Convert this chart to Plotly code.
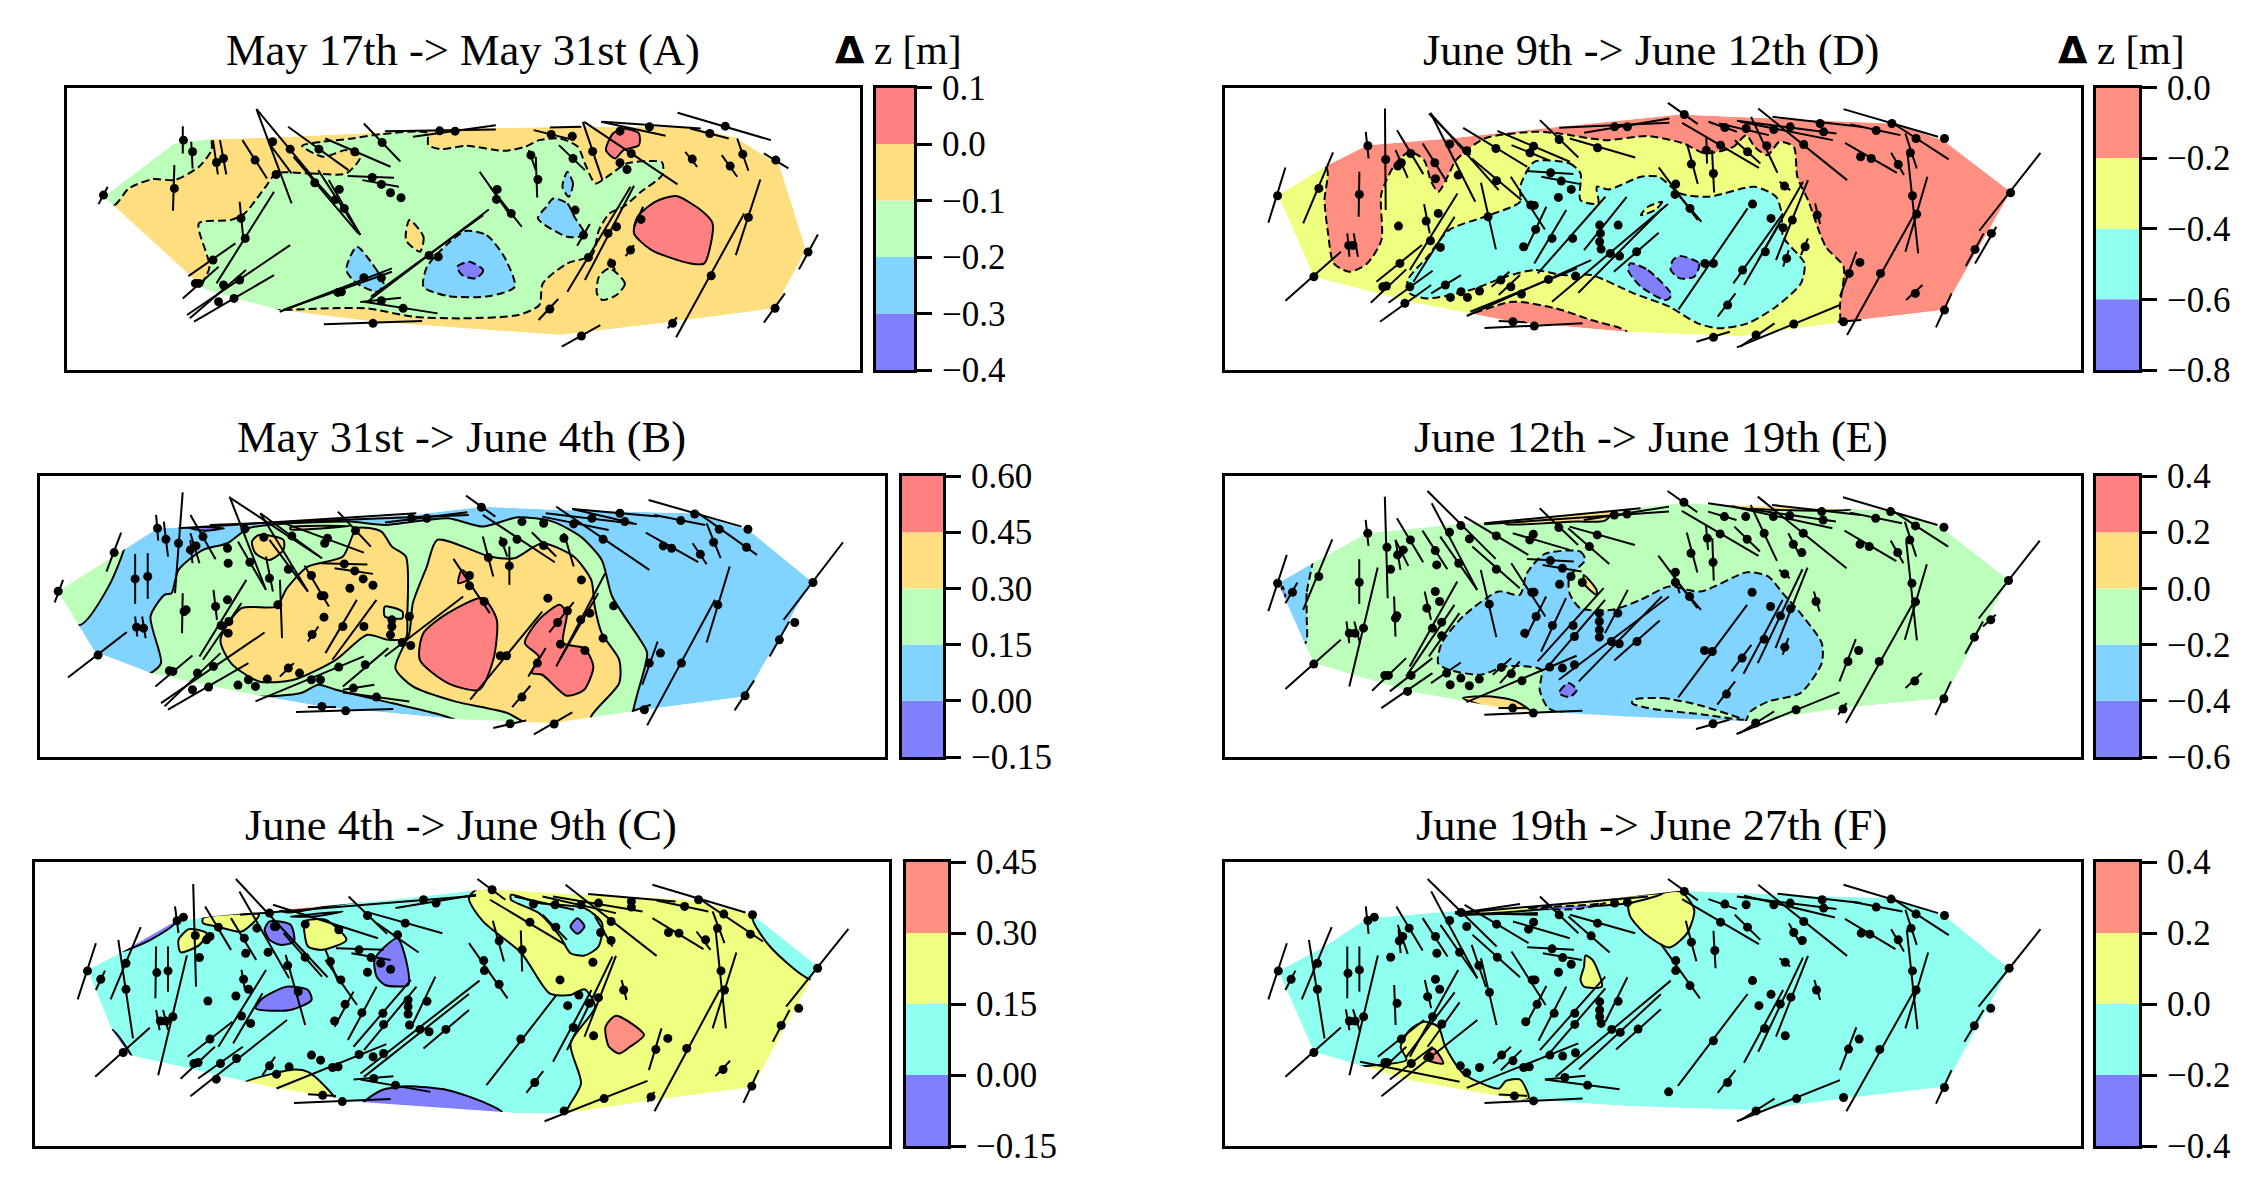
import plotly.graph_objects as go

W, H = 2265, 1193

TITLES = ["May 17th -> May 31st (A)", "May 31st -> June 4th (B)", "June 4th -> June 9th (C)",
          "June 9th -> June 12th (D)", "June 12th -> June 19th (E)", "June 19th -> June 27th (F)"]
FIVE = ["#8080ff", "#80d4ff", "#bbffbb", "#ffde80", "#ff8080"]
FOUR = ["#8080ff", "#8fffef", "#efff80", "#ff8f80"]

A_levels = [-0.4, -0.3, -0.2, -0.1, 0.0, 0.1]
B_levels = [-0.15, 0.0, 0.15, 0.30, 0.45, 0.60]
C_levels = [-0.15, 0.0, 0.15, 0.30, 0.45]
D_levels = [-0.8, -0.6, -0.4, -0.2, 0.0]
E_levels = [-0.6, -0.4, -0.2, 0.0, 0.2, 0.4]
F_levels = [-0.4, -0.2, 0.0, 0.2, 0.4]
A_ticks = ["−0.4", "−0.3", "−0.2", "−0.1", "0.0", "0.1"]
B_ticks = ["−0.15", "0.00", "0.15", "0.30", "0.45", "0.60"]
C_ticks = ["−0.15", "0.00", "0.15", "0.30", "0.45"]
D_ticks = ["−0.8", "−0.6", "−0.4", "−0.2", "0.0"]
E_ticks = ["−0.6", "−0.4", "−0.2", "0.0", "0.2", "0.4"]
F_ticks = ["−0.4", "−0.2", "0.0", "0.2", "0.4"]

# ---------- A ----------
A_hull = [(150,590),(250,430),(300,417),(390,412),(545,397),(640,385),(830,380),(985,380),(1050,412),(1112,495),(1150,750),(1105,925),(960,965),(800,1005),(535,965),(400,930),(295,870),(165,620)]
A_base = 3
A_regions = [
 (2,-0.1,[(110,640),(165,615),(185,565),(220,537),(250,540),(285,500),(303,450),(303,420),(300,380),(200,400),(110,640)]),
 (2,-0.1,[(395,520),(445,520),(495,520),(515,470),(495,450),(462,470),(432,437),(460,425),(500,416),(545,402),(610,398),(612,435),(630,447),(665,437),(720,452),(750,440),(770,420),(800,415),(825,440),(835,490),(850,550),(870,525),(895,490),(945,487),(945,525),(915,575),(890,620),(870,640),(855,690),(845,765),(810,790),(775,850),(770,915),(740,945),(660,955),(590,950),(525,925),(470,925),(400,930),(330,925),(285,885),(300,800),(285,670),(330,660),(350,640),(380,560),(395,520)]),
 (3,-0.1,[(585,660),(605,710),(600,755),(580,720),(585,660)]),
 (1,-0.2,[(510,740),(535,800),(548,850),(540,875),(510,850),(495,810),(510,740)]),
 (1,-0.2,[(665,693),(695,705),(720,770),(735,860),(700,888),(640,888),(605,860),(610,800),(640,730),(665,693)]),
 (0,-0.3,[(670,785),(690,810),(680,835),(660,825),(653,800),(670,785)]),
 (1,-0.2,[(810,515),(818,550),(812,590),(803,560),(810,515)]),
 (1,-0.2,[(790,595),(810,610),(820,650),(835,705),(810,710),(768,655),(780,620),(790,595)]),
 (2,-0.1,[(870,805),(892,850),(880,885),(860,900),(852,880),(855,830),(870,805)]),
 (4,0.0,[(965,588),(1000,630),(1017,670),(1005,790),(985,790),(930,750),(905,700),(910,650),(935,605),(965,588)]),
 (4,0.0,[(890,385),(912,400),(912,435),(890,450),(878,475),(865,450),(875,400),(890,385)]),
]
A_points = [(149,585),(263,420),(276,455),(310,487),(320,475),(365,480),(250,565),(390,425),(395,523),(415,447),(456,447),(507,455),(546,427),(450,548),(485,568),(480,598),(492,625),(532,532),(545,553),(558,578),(573,593),(628,392),(650,393),(710,568),(709,598),(730,640),(758,465),(768,538),(787,403),(817,408),(818,475),(846,454),(885,488),(901,460),(895,508),(885,393),(927,380),(1013,400),(1035,378),(988,477),(1060,462),(1042,498),(1107,480),(1068,652),(1153,756),(1015,827),(1106,925),(960,970),(830,1008),(785,927),(915,658),(900,750),(873,790),(880,680),(868,700),(840,772),(833,705),(821,630),(626,770),(613,766),(520,833),(488,875),(483,877),(545,833),(545,902),(576,925),(533,970),(345,655),(351,715),(305,780),(285,850),(280,850),(320,855),(343,840),(335,895),(313,905)]
A_segments = [(142,612,155,560),(262,378,262,460),(274,425,276,505),(305,420,312,523),(315,420,324,523),(347,420,382,535),(250,495,248,632),(367,327,417,610),(367,327,445,525),(385,430,417,520),(412,380,498,510),(465,415,558,500),(520,370,572,484),(420,470,480,610),(455,510,515,705),(420,470,512,700),(470,540,515,705),(497,528,563,533),(518,540,570,560),(550,393,708,388),(590,410,708,375),(685,515,730,650),(700,560,745,680),(755,450,765,510),(765,470,767,592),(762,390,820,420),(785,382,830,380),(798,435,835,510),(832,365,860,540),(834,365,967,553),(858,365,950,407),(860,365,1000,385),(985,385,1040,415),(967,338,1100,420),(978,455,995,500),(1052,415,1068,512),(1030,465,1052,530),(1090,460,1125,505),(1085,538,1050,765),(1167,703,1140,808),(1062,640,965,1012),(1120,880,1090,968),(966,952,953,985),(857,975,802,1040),(797,897,769,960),(918,620,905,680),(905,735,893,768),(870,775,878,810),(905,557,835,840),(900,560,810,875),(842,672,824,737),(698,628,525,905),(690,645,530,890),(560,805,400,935),(560,815,405,930),(515,906,573,893),(520,905,625,940),(463,973,603,963),(343,605,348,710),(392,575,310,850),(337,730,270,828),(313,800,262,895),(415,735,268,945),(352,810,272,955),(392,825,278,965)]

# ---------- B ----------
B_hull = [(83,575),(225,385),(350,375),(590,345),(690,320),(800,330),(990,340),(1070,390),(1160,545),(1065,890),(920,930),(790,970),(650,958),(460,920),(350,880),(215,820),(135,755)]
B_base = 1
B_regions = [
 (2,0.15,[(178,440),(155,560),(115,675),(50,640),(50,560),(178,400),(178,440)]),
 (2,0.15,[(215,820),(230,790),(215,650),(235,585),(245,580),(255,510),(290,450),(325,430),(355,385),(400,372),(500,365),(550,375),(640,355),(690,380),(740,352),(790,365),(830,410),(860,480),(875,590),(915,720),(925,760),(910,890),(905,935),(905,990),(700,1010),(650,960),(620,940),(560,910),(480,870),(455,855),(430,880),(365,892),(300,885),(250,875),(200,830),(215,820)]),
 (3,0.30,[(345,625),(395,620),(410,565),(440,500),(490,470),(510,385),(545,395),(560,440),(580,470),(582,650),(580,715),(555,720),(525,705),(480,780),(420,840),(370,845),(330,790),(315,720),(345,625)]),
 (3,0.30,[(370,405),(405,420),(405,450),(385,480),(365,460),(360,425),(370,405)]),
 (3,0.30,[(625,420),(700,470),(735,475),(775,430),(820,470),(845,540),(850,620),(860,700),(885,780),(885,850),(845,950),(845,990),(770,990),(725,940),(650,905),(590,860),(565,805),(585,700),(590,610),(610,500),(625,420)]),
 (2,0.30,[(550,620),(575,635),(575,655),(550,650),(550,620)]),
 (4,0.45,[(690,595),(710,660),(705,780),(685,870),(640,850),(600,780),(605,700),(640,640),(690,595)]),
 (4,0.45,[(660,510),(672,535),(655,550),(660,510)]),
 (4,0.45,[(800,615),(810,640),(805,730),(835,745),(848,800),(835,870),(810,888),(775,825),(760,820),(770,770),(750,730),(770,660),(800,615)]),
 (0,0.0,[(265,380),(320,385),(290,392),(265,380)]),
 (3,0.30,[(415,382),(500,378),(415,388),(415,382)]),
]
B_points = [(83,574),(163,458),(140,766),(225,385),(237,418),(255,430),(272,450),(280,438),(290,410),(193,537),(211,530),(325,445),(326,490),(350,387),(357,487),(377,412),(417,408),(412,508),(385,535),(464,430),(508,392),(468,415),(445,527),(492,492),(507,513),(519,537),(533,556),(500,565),(459,588),(463,588),(397,615),(325,600),(308,620),(263,635),(266,630),(195,682),(205,685),(316,677),(327,665),(326,700),(463,652),(490,680),(520,680),(446,704),(305,800),(247,815),(242,813),(282,820),(275,870),(298,862),(340,856),(355,840),(365,860),(382,838),(412,805),(428,820),(445,840),(458,840),(484,802),(505,865),(522,795),(538,892),(460,920),(494,933),(560,660),(560,680),(558,705),(585,650),(575,728),(587,737),(671,527),(671,558),(692,605),(698,473),(719,427),(728,498),(739,418),(777,437),(746,365),(777,370),(688,322),(588,355),(610,355),(820,372),(846,355),(886,340),(893,365),(806,415),(862,418),(831,540),(783,595),(877,618),(830,660),(843,640),(811,633),(797,668),(862,715),(836,752),(801,733),(768,790),(715,768),(724,768),(746,892),(729,972),(792,973),(921,930),(928,790),(944,760),(974,790),(1065,888),(1026,615),(1114,720),(1136,668),(1162,548),(973,362),(993,342),(1020,427),(1028,388),(1067,442),(1069,388),(948,438),(960,445),(1001,463)]
B_segments = [(90,540,78,608),(173,398,152,515),(181,697,97,833),(223,345,226,422),(234,365,240,470),(261,277,250,580),(272,420,275,490),(272,400,285,490),(272,345,308,478),(193,462,193,612),(211,460,211,597),(328,290,380,570),(330,295,460,475),(340,425,380,570),(372,340,440,575),(372,340,460,475),(385,420,440,575),(380,470,390,575),(400,365,520,458),(483,335,530,440),(435,497,470,620),(458,490,525,494),(478,505,533,522),(400,540,403,715),(352,540,285,770),(305,570,310,660),(261,580,260,700),(193,650,196,710),(203,650,208,715),(345,610,290,780),(510,600,465,760),(538,600,475,780),(455,680,440,725),(378,698,230,910),(275,767,222,860),(315,760,235,920),(355,790,240,930),(420,790,400,830),(520,770,365,905),(535,855,490,870),(555,745,490,860),(490,878,585,905),(440,922,480,922),(423,937,562,928),(662,590,550,770),(648,477,700,640),(690,410,705,530),(715,410,725,470),(728,440,728,555),(690,345,793,487),(760,397,795,470),(666,287,708,350),(255,385,595,340),(300,375,670,345),(550,368,668,337),(775,350,870,390),(818,327,905,370),(818,327,940,350),(780,340,910,372),(806,400,820,500),(795,320,928,510),(865,520,795,800),(855,580,800,780),(820,607,785,698),(780,745,755,830),(775,635,672,900),(758,858,732,922),(752,962,705,985),(818,938,763,1004),(903,935,930,915),(940,725,918,855),(1022,600,925,977),(1078,842,1050,932),(1043,500,1010,728),(1128,665,1100,770),(1205,427,1120,660),(935,345,1008,375),(927,300,1060,380),(1010,370,1030,475),(995,335,1082,465),(923,398,998,487),(990,430,1010,493)]

# ---------- C ----------
C_hull = [(125,540),(180,480),(250,395),(300,380),(380,365),(560,330),(695,298),(830,315),(980,330),(1075,375),(1168,530),(1150,600),(1075,890),(930,930),(805,970),(735,968),(515,935),(385,890),(185,795),(160,720)]
C_base = 1
C_regions = [
 (0,0.0,[(175,483),(215,450),(250,400),(250,370),(150,470),(175,483)]),
 (0,0.0,[(160,720),(180,770),(190,810),(150,810),(160,720)]),
 (2,0.15,[(670,325),(690,395),(745,490),(785,610),(815,615),(835,598),(850,650),(815,760),(830,880),(810,960),(810,1000),(1200,1000),(1200,300),(1000,300),(900,290),(695,280),(670,325)]),
 (1,0.15,[(1075,385),(1100,470),(1160,570),(1200,540),(1200,400),(1085,360),(1075,385)]),
 (1,0.15,[(730,315),(770,340),(835,355),(860,400),(855,470),(835,497),(815,490),(800,440),(770,370),(730,330),(730,315)]),
 (0,0.0,[(825,385),(835,410),(825,432),(815,410),(825,385)]),
 (3,0.30,[(880,677),(920,735),(900,770),(885,790),(870,770),(865,710),(880,677)]),
 (0,0.0,[(410,590),(440,600),(445,630),(415,660),(365,655),(375,625),(410,590)]),
 (0,0.0,[(385,395),(415,405),(420,455),(400,465),(385,450),(378,420),(385,395)]),
 (0,0.0,[(568,445),(580,510),(583,585),(550,585),(538,560),(535,510),(550,470),(568,445)]),
 (2,0.15,[(270,418),(295,430),(285,465),(258,487),(255,450),(270,418)]),
 (2,0.15,[(290,385),(370,375),(345,425),(310,410),(290,400),(290,385)]),
 (2,0.15,[(435,395),(465,390),(495,450),(460,480),(440,470),(435,430),(435,395)]),
 (2,0.15,[(348,880),(420,838),(440,845),(465,890),(478,925),(420,925),(348,880)]),
 (0,0.0,[(520,935),(545,900),(580,888),(640,900),(690,935),(717,965),(717,1000),(500,1000),(520,935)]),
 (3,0.30,[(400,360),(560,322),(480,345),(410,368),(400,360)]),
 (0,0.0,[(415,380),(490,365),(450,380),(415,380)]),
]
C_points = [(125,543),(144,568),(180,520),(180,598),(176,787),(253,393),(262,382),(224,548),(240,543),(279,437),(285,503),(295,450),(300,440),(312,412),(349,445),(351,490),(383,487),(348,568),(355,598),(337,618),(297,633),(229,693),(237,693),(247,680),(345,678),(358,700),(300,747),(283,817),(277,820),(338,805),(315,820),(309,867),(367,415),(394,410),(392,410),(385,370),(436,403),(436,502),(411,527),(426,605),(472,515),(487,570),(484,420),(525,377),(579,400),(513,480),(530,503),(544,520),(558,538),(568,435),(525,547),(493,643),(478,693),(517,668),(547,670),(548,703),(583,630),(583,650),(583,672),(585,705),(610,634),(600,718),(613,725),(637,718),(605,330),(623,340),(703,300),(691,512),(692,542),(713,583),(713,453),(746,480),(757,397),(762,343),(793,345),(794,412),(830,345),(855,340),(873,395),(858,428),(873,452),(902,335),(902,352),(978,350),(998,330),(1034,373),(1075,375),(1025,415),(1072,433),(955,428),(970,430),(1008,450),(1030,543),(1035,600),(847,517),(800,570),(891,600),(855,623),(842,640),(827,615),(811,647),(819,712),(848,737),(954,745),(937,778),(981,775),(744,747),(764,877),(806,962),(863,925),(930,920),(1074,888),(1033,838),(1116,706),(1141,655),(1168,535),(385,827),(413,830),(395,852),(458,810),(445,795),(475,832),(483,830),(513,793),(533,800),(548,790),(534,865),(565,885),(461,915),(489,934)]
C_segments = [(137,460,111,628),(150,542,137,600),(201,412,158,628),(169,450,190,745),(214,713,136,860),(250,350,255,430),(223,470,222,625),(240,470,240,605),(276,283,280,590),(293,350,330,480),(330,385,366,510),(345,540,350,600),(223,660,228,720),(233,660,240,720),(267,497,226,855),(380,540,312,770),(375,610,333,760),(332,695,268,800),(307,770,258,866),(347,770,283,865),(410,690,272,918),(337,268,468,562),(342,305,413,565),(390,345,540,445),(405,430,460,560),(408,495,436,705),(465,480,482,570),(465,510,510,645),(498,320,553,432),(530,370,632,430),(480,475,548,480),(502,490,558,510),(538,400,598,488),(505,605,478,710),(538,590,497,750),(587,570,505,770),(595,590,520,780),(622,560,590,700),(670,612,520,860),(685,572,515,850),(670,660,605,775),(343,375,680,318),(565,355,680,315),(682,268,722,330),(670,460,725,625),(704,393,720,515),(744,422,746,545),(700,330,808,465),(735,320,820,360),(775,375,810,450),(775,320,880,370),(808,285,938,498),(850,380,875,470),(840,313,965,335),(790,320,918,365),(938,332,1012,365),(932,285,1065,368),(1000,328,1090,455),(1018,365,1035,460),(932,385,1005,478),(995,425,1015,480),(1022,415,1037,715),(1052,488,1018,715),(888,570,895,630),(880,498,835,740),(875,500,810,780),(845,600,790,815),(945,715,927,840),(1028,600,935,963),(795,615,695,885),(776,843,752,908),(925,872,778,993),(935,905,925,935),(1084,840,1062,938),(1043,812,1022,858),(1128,660,1104,755),(1212,417,1123,650),(393,800,375,855),(552,762,395,895),(505,868,562,858),(515,868,615,905),(440,912,480,917),(420,938,558,926)]

# ---------- D ----------
D_hull = [(180,585),(250,495),(305,435),(420,415),(575,380),(745,343),(930,360),(1045,370),(1115,420),(1210,575),(1115,930),(975,965),(830,1008),(670,995),(510,965),(365,905),(230,830)]
D_base = 3
D_regions = [
 (2,-0.2,[(200,500),(248,505),(245,600),(250,700),(258,790),(280,815),(305,790),(325,720),(325,580),(345,490),(365,455),(385,480),(395,545),(405,575),(418,530),(430,480),(470,415),(540,395),(575,400),(640,420),(700,408),(750,430),(780,460),(820,440),(838,405),(850,440),(868,465),(885,425),(905,440),(910,530),(925,600),(950,740),(975,800),(970,915),(968,980),(900,1040),(670,1040),(670,995),(620,960),(570,925),(510,905),(445,945),(400,960),(200,880),(130,600),(200,500)]),
 (1,-0.4,[(540,485),(590,490),(605,520),(605,600),(630,610),(628,560),(645,568),(690,530),(715,530),(745,580),(785,590),(850,560),(880,590),(888,640),(890,710),(920,790),(915,850),(880,920),(840,970),(800,985),(770,970),(730,920),(680,880),(620,825),(580,825),(540,810),(500,830),(450,870),(390,895),(365,880),(362,840),(390,770),(420,690),(470,650),(520,605),(520,560),(540,485)]),
 (2,-0.4,[(700,620),(720,605),(710,630),(690,645),(700,620)]),
 (0,-0.6,[(745,768),(772,790),(765,830),(745,835),(732,810),(735,780),(745,768)]),
 (0,-0.6,[(675,790),(700,810),(733,885),(725,900),(690,860),(672,810),(675,790)]),
]
D_points = [(179,587),(237,565),(230,830),(306,437),(294,583),(331,478),(353,488),(348,498),(366,460),(400,488),(401,536),(421,432),(433,525),(445,452),(486,445),(487,542),(539,438),(534,458),(575,418),(563,518),(578,543),(592,568),(574,592),(535,615),(540,616),(629,443),(653,380),(671,380),(751,343),(739,552),(738,583),(759,625),(761,492),(782,450),(792,520),(802,435),(808,382),(838,385),(840,455),(867,437),(877,388),(900,380),(919,433),(942,370),(947,395),(1021,391),(1043,370),(1077,415),(1117,415),(999,470),(1014,475),(1052,493),(1069,458),(1072,587),(1078,642),(1210,578),(1183,700),(1160,748),(1117,930),(1076,880),(998,787),(983,820),(1027,820),(975,965),(905,972),(852,1005),(792,1012),(812,915),(938,645),(892,558),(921,740),(903,660),(890,683),(873,655),(895,775),(865,755),(847,612),(833,810),(780,790),(792,790),(684,755),(660,768),(647,760),(632,675),(633,700),(632,725),(634,747),(658,675),(594,715),(565,715),(542,688),(525,740),(475,650),(405,640),(388,663),(408,742),(394,722),(349,678),(285,736),(279,736),(351,790),(332,858),(327,860),(365,860),(358,910),(415,855),(422,892),(437,875),(446,892),(463,873),(493,840),(507,860),(522,882),(560,838),(598,828),(510,965),(540,978)]
D_segments = [(190,502,166,668),(257,457,215,670),(268,755,190,902),(303,395,307,475),(294,515,293,650),(330,325,331,630),(345,450,362,533),(347,390,384,522),(383,430,417,545),(394,338,457,605),(395,342,490,570),(392,340,450,465),(440,383,530,500),(452,475,522,600),(465,548,486,748),(488,392,590,485),(508,435,560,480),(548,360,602,472),(528,513,595,522),(550,530,605,552),(507,530,555,688),(590,415,682,472),(575,383,730,368),(610,398,730,355),(728,308,770,372),(715,502,770,660),(745,590,775,665),(755,432,770,552),(782,410,783,490),(790,450,793,577),(748,368,856,503),(785,365,825,395),(800,370,870,405),(822,420,858,490),(845,350,882,518),(855,325,980,540),(825,362,965,400),(875,350,1000,380),(830,365,960,420),(985,373,1055,405),(975,327,1108,410),(1045,370,1123,478),(977,428,1050,518),(1042,458,1060,525),(1062,400,1078,505),(1065,460,1080,760),(1093,530,1062,755),(1252,458,1166,692),(1190,680,1160,790),(1172,700,1147,798),(1127,880,1105,982),(1086,855,1063,900),(993,755,970,890),(1075,640,980,1005),(967,965,1000,960),(970,915,825,1042),(878,970,830,1040),(815,995,768,1025),(823,880,798,950),(935,610,942,672),(885,545,900,570),(925,715,915,765),(925,540,880,780),(918,545,855,780),(898,750,890,800),(890,640,820,850),(885,670,835,855),(840,625,743,928),(715,698,652,815),(720,625,602,878),(728,612,565,905),(670,590,610,750),(640,590,545,820),(585,630,540,790),(557,620,528,750),(432,580,365,810),(385,612,393,700),(428,650,370,845),(277,700,280,770),(286,700,292,770),(382,735,318,845),(360,808,310,908),(397,812,335,908),(395,855,323,965),(437,825,395,880),(505,815,480,860),(520,825,490,885),(620,780,445,948),(600,805,450,935),(490,963,530,967),(470,984,608,970)]

# ---------- E ----------
E_hull = [(180,550),(245,470),(305,400),(420,375),(575,350),(745,310),(930,325),(1040,330),(1115,385),(1208,540),(1117,895),(975,925),(850,965),(670,950),(510,930),(365,875),(230,790),(215,720)]
E_base = 2
E_regions = [
 (1,-0.2,[(228,490),(220,580),(220,650),(218,730),(170,700),(150,560),(228,470),(228,490)]),
 (0,-0.4,[(186,560),(190,590),(182,590),(186,560)]),
 (1,-0.2,[(555,462),(605,455),(612,480),(590,530),(590,580),(605,625),(650,630),(690,600),(730,560),(775,575),(840,517),(870,530),(890,580),(915,640),(945,730),(945,790),(915,880),(870,905),(845,935),(830,990),(640,990),(610,960),(560,925),(548,870),(550,810),(500,800),(465,825),(420,810),(405,790),(410,730),(440,650),(490,575),(520,585),(530,520),(555,462)]),
 (2,-0.2,[(680,900),(720,895),(770,915),(835,960),(780,945),(700,925),(678,910),(680,900)]),
 (0,-0.4,[(588,850),(600,870),(590,892),(575,880),(588,850)]),
 (3,0.0,[(610,525),(628,570),(628,585),(612,555),(610,525)]),
 (3,0.0,[(440,895),(480,890),(515,905),(535,935),(480,925),(440,895)]),
 (3,0.0,[(500,365),(650,335),(640,362),(600,365),(500,372),(500,365)]),
 (3,0.0,[(820,315),(985,322),(985,328),(820,320),(820,315)]),
]
E_points = [(179,550),(200,577),(237,530),(230,793),(306,400),(294,547),(333,442),(348,465),(356,450),(366,420),(338,508),(401,452),(403,495),(421,397),(437,377),(449,417),(434,490),(487,408),(487,508),(539,403),(534,420),(575,383),(563,482),(580,505),(592,530),(576,553),(537,577),(540,577),(618,440),(629,405),(608,548),(653,345),(671,342),(751,307),(739,517),(739,547),(759,590),(761,460),(784,415),(792,487),(802,402),(808,350),(838,350),(840,418),(864,400),(877,350),(900,347),(919,400),(905,433),(917,458),(945,335),(947,360),(1021,355),(1042,335),(1077,378),(1117,382),(999,433),(1012,440),(1052,458),(1069,420),(1072,550),(1077,606),(1208,542),(1183,660),(1160,712),(1117,897),(1076,844),(997,752),(982,785),(1026,785),(975,928),(909,930),(852,970),(792,972),(811,883),(937,605),(893,522),(893,742),(901,627),(887,648),(873,620),(864,718),(847,577),(833,775),(780,752),(791,755),(685,725),(660,732),(649,725),(632,640),(632,665),(632,690),(632,712),(658,640),(595,677),(597,710),(566,677),(543,650),(527,700),(477,613),(401,575),(407,605),(389,625),(347,648),(345,655),(300,685),(288,700),(280,700),(410,667),(397,685),(410,708),(367,827),(335,827),(330,827),(362,875),(417,820),(422,855),(437,835),(449,858),(463,838),(494,803),(508,822),(523,843),(562,802),(597,795),(580,805),(510,925),(539,940)]
E_segments = [(192,465,166,634),(207,548,190,610),(256,418,215,630),(268,720,190,868),(303,360,307,438),(294,478,294,612),(330,290,334,595),(345,420,352,510),(345,420,363,498),(347,355,384,487),(383,392,418,508),(390,273,486,477),(396,310,460,570),(408,410,460,570),(442,350,532,465),(453,440,520,565),(510,400,590,450),(548,325,602,435),(530,477,596,485),(552,495,607,515),(508,490,556,650),(588,385,646,492),(590,380,682,435),(470,370,690,325),(470,373,730,335),(610,360,730,320),(728,273,770,337),(715,467,770,625),(735,510,745,580),(745,555,775,630),(755,398,770,518),(782,375,785,450),(791,415,793,542),(748,333,856,468),(785,335,825,360),(822,380,858,455),(845,315,882,483),(855,290,980,505),(785,310,965,365),(898,400,915,470),(875,315,1000,345),(830,325,960,385),(985,338,1058,370),(975,292,1108,375),(1045,333,1123,440),(977,392,1050,484),(1042,422,1060,490),(1062,365,1078,470),(1064,425,1079,722),(1093,493,1062,720),(1252,422,1166,656),(1190,645,1172,680),(1172,665,1147,762),(1127,845,1105,946),(1086,820,1063,865),(993,718,970,845),(1075,605,979,970),(980,910,968,945),(970,878,825,1003),(878,935,830,1000),(815,960,768,988),(823,845,798,915),(934,575,942,635),(885,510,900,535),(898,715,890,765),(925,503,880,745),(918,508,855,790),(890,600,835,822),(846,735,818,815),(840,615,743,893),(717,662,653,782),(720,590,603,845),(730,590,575,840),(672,570,640,700),(638,565,545,785),(640,600,560,800),(585,595,550,755),(557,590,528,715),(465,510,487,712),(386,575,395,660),(432,545,365,800),(343,590,345,710),(320,503,280,860),(276,665,280,730),(287,665,295,730),(428,615,360,830),(435,640,392,770),(397,775,337,875),(360,775,312,873),(397,820,325,925),(437,788,395,850),(508,775,482,825),(520,785,492,850),(600,768,445,907),(490,925,530,925),(470,945,608,933)]

# ---------- F ----------
F_hull = [(180,543),(245,470),(305,385),(420,365),(575,345),(745,303),(930,318),(1040,325),(1117,378),(1208,535),(1117,890),(975,925),(850,960),(670,947),(510,925),(365,870),(230,785)]
F_base = 1
F_regions = [
 (2,0.0,[(673,345),(745,305),(765,360),(755,430),(730,473),(695,430),(675,380),(673,345)]),
 (2,0.0,[(430,365),(575,338),(720,312),(673,340),(575,355),(430,372),(430,365)]),
 (2,0.0,[(612,497),(622,510),(635,590),(610,590),(605,570),(610,530),(612,497)]),
 (2,0.0,[(385,695),(405,710),(415,770),(440,850),(490,895),(500,872),(520,868),(532,925),(490,925),(365,885),(285,835),(360,810),(352,770),(365,720),(385,695)]),
 (0,-0.2,[(530,355),(620,345),(640,340),(600,358),(530,355)]),
 (3,0.2,[(398,775),(412,820),(385,805),(398,775)]),
]
F_points = [(180,543),(198,568),(235,520),(235,598),(230,787),(306,392),(315,382),(278,550),(294,540),(338,502),(300,680),(350,453),(355,440),(364,415),(401,440),(403,490),(421,392),(437,368),(445,410),(435,487),(462,527),(487,403),(488,502),(477,607),(539,397),(532,418),(575,375),(629,400),(620,438),(565,477),(580,503),(592,523),(574,547),(537,570),(541,570),(544,643),(528,695),(568,670),(597,670),(597,703),(632,635),(632,660),(632,680),(634,700),(658,634),(649,718),(661,727),(686,717),(653,340),(671,338),(751,305),(739,512),(739,542),(759,587),(761,457),(794,482),(802,397),(808,343),(838,345),(840,412),(877,345),(900,340),(919,395),(905,428),(917,452),(945,330),(947,355),(1021,352),(1042,328),(1077,373),(1117,377),(1000,430),(1012,433),(1052,450),(1070,415),(1072,543),(1077,600),(1208,535),(1182,655),(1159,707),(1117,892),(1026,778),(982,777),(997,747),(975,922),(909,925),(852,962),(812,877),(729,905),(792,752),(893,517),(847,572),(937,600),(893,737),(901,622),(886,642),(873,613),(856,647),(864,715),(615,885),(583,862),(512,917),(539,932),(562,795),(598,788),(580,798),(533,830),(525,832),(494,795),(510,812),(463,832),(436,827),(445,848),(353,747),(333,817),(330,817),(367,820),(393,800),(397,680),(410,702),(401,568),(407,598),(390,620),(347,640),(288,693),(280,693)]
F_segments = [(192,460,166,628),(204,542,190,600),(255,412,213,628),(223,450,245,745),(268,712,190,860),(303,350,307,432),(277,470,277,625),(294,470,294,605),(320,497,280,855),(349,418,352,490),(348,405,362,492),(346,350,383,482),(383,385,418,500),(390,268,487,470),(395,305,460,565),(408,405,460,565),(452,465,472,592),(442,345,532,460),(453,435,520,562),(465,505,487,705),(510,395,590,445),(548,320,602,430),(590,375,682,430),(588,380,646,488),(530,472,596,480),(552,490,607,510),(508,485,556,645),(557,588,528,705),(585,590,546,752),(640,560,548,780),(640,595,557,800),(671,562,640,695),(718,613,603,838),(732,572,570,860),(718,658,655,778),(430,370,700,320),(440,368,520,343),(440,375,545,370),(430,370,545,375),(728,268,770,332),(718,462,773,625),(753,393,768,514),(792,423,795,535),(748,328,856,463),(785,328,825,358),(822,375,858,450),(855,285,980,498),(825,320,965,358),(898,400,915,465),(882,312,1000,340),(835,318,963,383),(985,335,1058,365),(975,285,1108,370),(1045,328,1123,436),(977,387,1048,478),(1042,418,1060,485),(1062,360,1078,465),(1064,420,1079,717),(1094,488,1062,715),(1252,418,1165,650),(1172,660,1145,755),(1127,840,1105,940),(1075,600,979,963),(993,712,970,840),(970,870,825,993),(878,925,830,990),(823,840,798,908),(840,612,742,887),(885,505,900,530),(934,570,942,630),(925,498,880,740),(918,503,855,785),(890,600,835,818),(555,868,660,897),(555,868,612,857),(490,913,530,917),(470,938,608,925),(602,760,445,893),(507,770,482,820),(522,780,493,840),(385,690,320,800),(360,770,312,866),(397,770,337,868),(460,690,325,918),(428,607,360,800),(435,637,390,770),(386,570,395,655),(433,540,365,800),(343,585,345,705),(285,658,295,725),(275,658,280,720),(295,815,435,875)]

# panel layout in figure pixels: map rectangle, colourbar x span, axis window of the map
PANELS = [
 dict(hull=A_hull,base=A_base,regions=A_regions,points=A_points,segments=A_segments,levels=A_levels,ticks=A_ticks,colors=FIVE,
      rect=(67,87.5,860,370),cb=(876,914),xr=(97,1227),yr=(1110,262),tx=463,ty=50,dz=(833,872)),
 dict(hull=B_hull,base=B_base,regions=B_regions,points=B_points,segments=B_segments,levels=B_levels,ticks=B_ticks,colors=FIVE,
      rect=(40,476,885,757),cb=(902,943),xr=(57,1265),yr=(1072,228),tx=461,ty=437,dz=None),
 dict(hull=C_hull,base=C_base,regions=C_regions,points=C_points,segments=C_segments,levels=C_levels,ticks=C_ticks,colors=FOUR,
      rect=(35,862,889,1146),cb=(906,948),xr=(50,1270),yr=(1067,217),tx=461,ty=825,dz=None),
 dict(hull=D_hull,base=D_base,regions=D_regions,points=D_points,segments=D_segments,levels=D_levels,ticks=D_ticks,colors=FOUR,
      rect=(1225,87.5,2081,370),cb=(2096,2139),xr=(105,1309),yr=(1110,262),tx=1651,ty=50,dz=(2056,2095)),
 dict(hull=E_hull,base=E_base,regions=E_regions,points=E_points,segments=E_segments,levels=E_levels,ticks=E_ticks,colors=FIVE,
      rect=(1225,476,2081,757),cb=(2096,2139),xr=(105,1310),yr=(1072,228),tx=1651,ty=437,dz=None),
 dict(hull=F_hull,base=F_base,regions=F_regions,points=F_points,segments=F_segments,levels=F_levels,ticks=F_ticks,colors=FOUR,
      rect=(1225,862,2081,1146),cb=(2096,2139),xr=(105,1309),yr=(1067,217),tx=1651,ty=825,dz=None),
]

SERIF = "Liberation Serif"
fig = go.Figure()
layout = dict(template="none", width=W, height=H, margin=dict(l=0, r=0, t=0, b=0), paper_bgcolor="white",
              plot_bgcolor="white", showlegend=False, barmode="overlay", hovermode=False)
annotations = []

def xs(p): return [q[0] for q in p]
def ys(p): return [q[1] for q in p]

for i, (p, title) in enumerate(zip(PANELS, TITLES)):
    m = 2 * i + 1
    c = 2 * i + 2
    mx, my = f"x{m}", f"y{m}"
    cx, cy = f"x{c}", f"y{c}"
    x0, y0, x1, y1 = p["rect"]
    frame = dict(showgrid=False, zeroline=False, automargin=False, showline=True, linecolor="black", linewidth=3, mirror=True)
    layout[f"xaxis{m}"] = dict(domain=[x0 / W, x1 / W], range=list(p["xr"]), anchor=my, showticklabels=False, ticks="", **frame)
    layout[f"yaxis{m}"] = dict(domain=[1 - y1 / H, 1 - y0 / H], range=list(p["yr"]), anchor=mx, showticklabels=False, ticks="", **frame)
    layout[f"xaxis{c}"] = dict(domain=[p["cb"][0] / W, p["cb"][1] / W], range=[-0.5, 0.5], anchor=cy, showticklabels=False, ticks="", **frame)
    layout[f"yaxis{c}"] = dict(domain=[1 - y1 / H, 1 - y0 / H], range=[p["levels"][0], p["levels"][-1]], anchor=cx, side="right",
                               ticks="outside", ticklen=15, tickwidth=3, tickcolor="black", tickmode="array", ticklabelstandoff=3,
                               tickvals=p["levels"], ticktext=p["ticks"], tickfont=dict(family=SERIF, size=35, color="black"), **frame)
    # filled bands
    h = p["hull"] + [p["hull"][0]]
    fig.add_trace(go.Scatter(x=xs(h), y=ys(h), mode="lines", fill="toself", fillcolor=p["colors"][p["base"]],
                             line=dict(width=0, color=p["colors"][p["base"]]), xaxis=mx, yaxis=my))
    for band, level, pts in p["regions"]:
        fig.add_trace(go.Scatter(x=xs(pts), y=ys(pts), mode="lines", fill="toself", fillcolor=p["colors"][band],
                                 line=dict(color="black", width=2, shape="spline", smoothing=0.7,
                                           dash="8px,4px" if level < 0 else "solid"), xaxis=mx, yaxis=my))
    # white surround: everything inside the frame but outside the hull (hull walked the opposite way round)
    xa, xb = p["xr"]
    yb, ya = p["yr"]
    rh = h[::-1]
    mask_x = [xa, xb, xb, xa, xa] + xs(rh) + [xa]
    mask_y = [ya, ya, yb, yb, ya] + ys(rh) + [ya]
    fig.add_trace(go.Scatter(x=mask_x, y=mask_y, mode="lines", fill="toself", fillcolor="white",
                             line=dict(width=0, color="white"), xaxis=mx, yaxis=my))
    # stations
    sx, sy = [], []
    for a, b, c2, d in p["segments"]:
        sx += [a, c2, None]
        sy += [b, d, None]
    fig.add_trace(go.Scatter(x=sx, y=sy, mode="lines", line=dict(color="black", width=2), xaxis=mx, yaxis=my))
    fig.add_trace(go.Scatter(x=xs(p["points"]), y=ys(p["points"]), mode="markers", marker=dict(color="black", size=9),
                             xaxis=mx, yaxis=my))
    # colourbar
    lv = p["levels"]
    for j, col in enumerate(p["colors"]):
        fig.add_trace(go.Bar(x=[0], y=[lv[j + 1] - lv[j]], base=[lv[j]], width=[1], marker=dict(color=col, line=dict(width=0)),
                             xaxis=cx, yaxis=cy))
    annotations.append(dict(text=title, xref="paper", yref="paper", x=p["tx"] / W, y=1 - p["ty"] / H, xanchor="center",
                            yanchor="middle", showarrow=False, font=dict(family=SERIF, size=44.5, color="black")))
    if p["dz"]:
        annotations.append(dict(text="<b>Δ</b>", xref="paper", yref="paper", x=p["dz"][0] / W,
                                y=1 - 50 / H, xanchor="left", yanchor="middle", showarrow=False,
                                font=dict(family="DejaVu Sans", size=38, color="black")))
        annotations.append(dict(text="z [m]", xref="paper", yref="paper", x=p["dz"][1] / W, y=1 - 50 / H, xanchor="left",
                                yanchor="middle", showarrow=False, font=dict(family=SERIF, size=41, color="black")))

layout["annotations"] = annotations
fig.update_layout(**layout)
fig.write_html("out.html", config={"displayModeBar": False}, post_script="document.body.style.margin='0';")
